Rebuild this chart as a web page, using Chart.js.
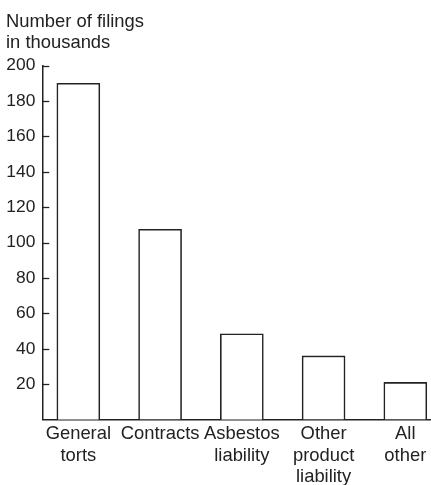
<!DOCTYPE html>
<html>
<head>
<meta charset="utf-8">
<script src="https://cdn.jsdelivr.net/npm/chart.js@4/dist/chart.umd.min.js"></script>
<style>
html,body{margin:0;padding:0;background:#fff;}
canvas{display:block;}
</style>
</head>
<body>
<canvas id="c" width="431" height="485"></canvas>
<script>
const categories = [
  ["General", "torts"],
  ["Contracts"],
  ["Asbestos", "liability"],
  ["Other", "product", "liability"],
  ["All", "other"]
];
const filings = [190, 107.5, 48.5, 36, 21];
const yTicks = [20, 40, 60, 80, 100, 120, 140, 160, 180, 200];
const titleLines = ["Number of filings", "in thousands"];

const ink = "#222";
const FONT = "'Liberation Sans', Arial, Helvetica, sans-serif";

const insideTicks = {
  id: "insideTicks",
  afterDraw(chart) {
    const y = chart.scales.y;
    const ctx = chart.ctx;
    ctx.save();
    ctx.strokeStyle = ink;
    ctx.lineWidth = 1.3;
    yTicks.forEach(v => {
      const py = Math.round(y.getPixelForValue(v)) + 0.5;
      ctx.beginPath();
      ctx.moveTo(y.right, py);
      ctx.lineTo(y.right + 7, py);
      ctx.stroke();
    });
    ctx.restore();
  }
};

new Chart(document.getElementById("c"), {
  type: "bar",
  data: {
    datasets: [{
      data: filings.map((v, i) => ({ x: i, y: v })),
      backgroundColor: "#ffffff",
      borderColor: ink,
      borderWidth: 1.6,
      barThickness: 43
    }]
  },
  options: {
    responsive: false,
    animation: false,
    layout: { padding: { left: 6, right: 1, top: 0, bottom: 0 } },
    plugins: {
      legend: { display: false },
      tooltip: { enabled: false },
      title: {
        display: true,
        text: titleLines,
        align: "start",
        color: ink,
        font: { family: FONT, size: 18.4, weight: "normal", lineHeight: 1.13 },
        padding: { top: 12, bottom: 12 }
      }
    },
    scales: {
      x: {
        type: "linear",
        offset: false,
        bounds: "data",
        min: -0.441,
        max: 4.302,
        afterBuildTicks(scale) {
          scale.ticks = categories.map((c, i) => ({ value: i }));
        },
        afterFit(scale) { scale.height = 65.4; },
        grid: { display: false, drawTicks: false, offset: false },
        border: { display: true, color: ink, width: 1.5 },
        ticks: {
          autoSkip: false,
          maxRotation: 0,
          padding: 4,
          color: ink,
          font: { family: FONT, size: 18.4, lineHeight: 1.17 },
          callback: (v) => categories[v] || ""
        }
      },
      y: {
        min: 0,
        max: 200,
        afterBuildTicks(scale) {
          scale.ticks = [0].concat(yTicks).map(v => ({ value: v }));
        },
        afterFit(scale) { scale.width = 36.3; },
        grid: { display: false, drawTicks: false },
        border: { display: true, color: ink, width: 1.5 },
        ticks: {
          padding: 7,
          color: ink,
          font: { family: FONT, size: 17.4 },
          callback: (v) => v === 0 ? "" : String(v)
        }
      }
    }
  },
  plugins: [insideTicks]
});
</script>
</body>
</html>
